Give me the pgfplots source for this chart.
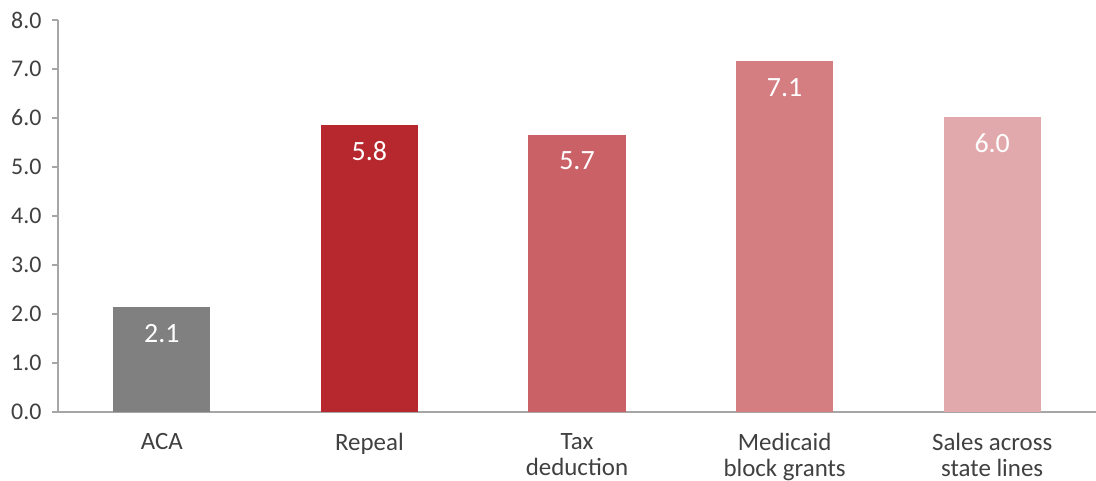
\documentclass[border=0pt]{standalone}
\usepackage{pgfplots}
\pgfplotsset{compat=1.18}
\usepackage{fontspec}
\setmainfont{Carlito}

\definecolor{txt}{HTML}{404040}
\definecolor{axisgray}{HTML}{A6A6A6}
\definecolor{barGray}{HTML}{808080}
\definecolor{barRepeal}{HTML}{B7282E}
\definecolor{barTax}{HTML}{C96166}
\definecolor{barMedicaid}{HTML}{D47E82}
\definecolor{barSales}{HTML}{E2A9AC}

\begin{document}
\begin{tikzpicture}[x=1bp,y=1bp]
  \useasboundingbox (-58,-69) rectangle (1038,412);
  \begin{axis}[
    scale only axis,
    width=1038bp, height=392bp,
    xmin=-0.5, xmax=4.5,
    ymin=0, ymax=8,
    axis x line=bottom, axis y line=left,
    axis line style={draw=axisgray, line width=1.2bp, -},
    xtick={0,...,4},
    xticklabels={ACA, Repeal, Tax\\deduction, Medicaid\\block grants, Sales across\\state lines},
    xticklabel style={align=center, font=\fontsize{25}{26}\selectfont, text=txt, yshift=-12bp},
    x tick style={draw=none},
    ytick={0,...,8},
    yticklabel style={font=\fontsize{24}{26}\selectfont, text=txt,
      /pgf/number format/fixed, /pgf/number format/fixed zerofill,
      /pgf/number format/precision=1, xshift=-7bp},
    /pgf/number format/assume math mode=true,
    y tick style={draw=axisgray, line width=1.2bp},
    tick align=outside,
    major tick length=6bp,
    ybar, bar width=97bp, bar shift=0pt,
    point meta=explicit symbolic,
    nodes near coords,
    every node near coord/.append style={anchor=center, yshift=-26bp,
      text=white, font=\fontsize{28}{30}\selectfont},
  ]
    \addplot[fill=barGray, draw=none] table[meta=label] {
      x y label
      0 2.14 2.1
    };
    \addplot[fill=barRepeal, draw=none] table[meta=label] {
      x y label
      1 5.86 5.8
    };
    \addplot[fill=barTax, draw=none] table[meta=label] {
      x y label
      2 5.65 5.7
    };
    \addplot[fill=barMedicaid, draw=none] table[meta=label] {
      x y label
      3 7.16 7.1
    };
    \addplot[fill=barSales, draw=none] table[meta=label] {
      x y label
      4 6.02 6.0
    };
  \end{axis}
\end{tikzpicture}
\end{document}
